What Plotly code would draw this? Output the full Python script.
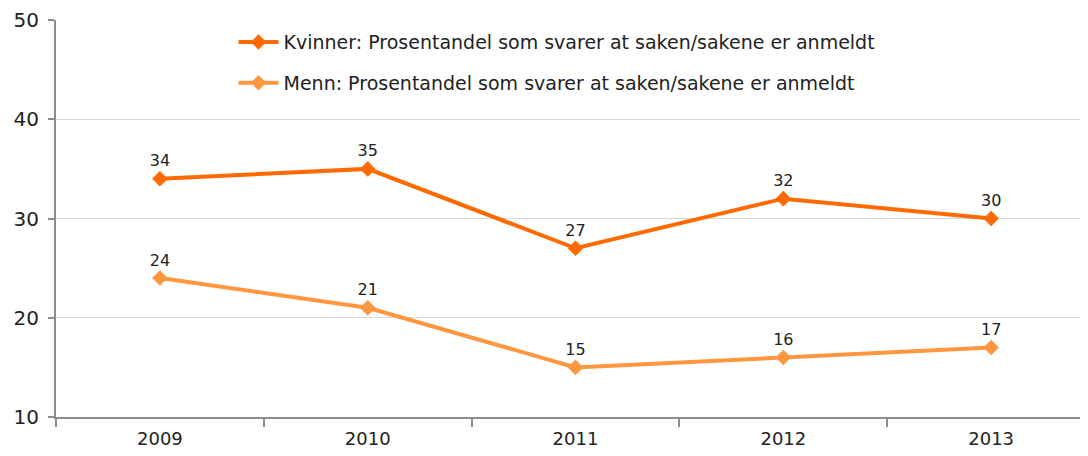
import plotly.graph_objects as go

years = ["2009", "2010", "2011", "2012", "2013"]
kvinner = [34, 35, 27, 32, 30]
menn = [24, 21, 15, 16, 17]
name_k = "Kvinner: Prosentandel som svarer at saken/sakene er anmeldt"
name_m = "Menn: Prosentandel som svarer at saken/sakene er anmeldt"

fig = go.Figure()
fig.add_trace(go.Scatter(
    x=years, y=kvinner, name=name_k, legendgroup="k",
    mode="lines+markers+text", text=[str(v) for v in kvinner], textposition="top center",
    textfont=dict(size=16, color="#222222"),
    line=dict(color="#FF6A00", width=4), marker=dict(symbol="diamond", size=12, color="#FF6A00"),
))
fig.add_trace(go.Scatter(
    x=years, y=menn, name=name_m, legendgroup="m",
    mode="lines+markers+text", text=[str(v) for v in menn], textposition="top center",
    textfont=dict(size=16, color="#222222"),
    line=dict(color="#FF9640", width=4), marker=dict(symbol="diamond", size=12, color="#FF9640"),
))

fig.update_layout(
    width=1080, height=448,
    margin=dict(l=48, r=0, t=12, b=39),
    paper_bgcolor="white", plot_bgcolor="white",
    font=dict(family="DejaVu Sans", size=16, color="#222222"),
    showlegend=True,
    legend=dict(x=0.172, y=0.992, xanchor="left", yanchor="top", bgcolor="rgba(0,0,0,0)",
                font=dict(size=19, color="#222222"), tracegroupgap=13, itemwidth=40),
    xaxis=dict(type="category", range=[-0.5, 4.466], showgrid=False,
               showline=True, linecolor="#8c8c8c", linewidth=2,
               ticks="outside", tickson="boundaries", ticklen=8, tickcolor="#8c8c8c", tickwidth=2,
               ticklabelstandoff=4,
               tickfont=dict(size=18, color="#222222")),
    yaxis=dict(range=[10, 50], dtick=10, showgrid=True, gridcolor="#d9d9d9", gridwidth=1,
               showline=True, linecolor="#8c8c8c", linewidth=2, zeroline=False,
               ticks="outside", ticklen=6, tickcolor="#8c8c8c", tickwidth=2,
               ticklabelstandoff=5,
               tickfont=dict(size=20, color="#222222")),
)
fig.write_html("out.html")
